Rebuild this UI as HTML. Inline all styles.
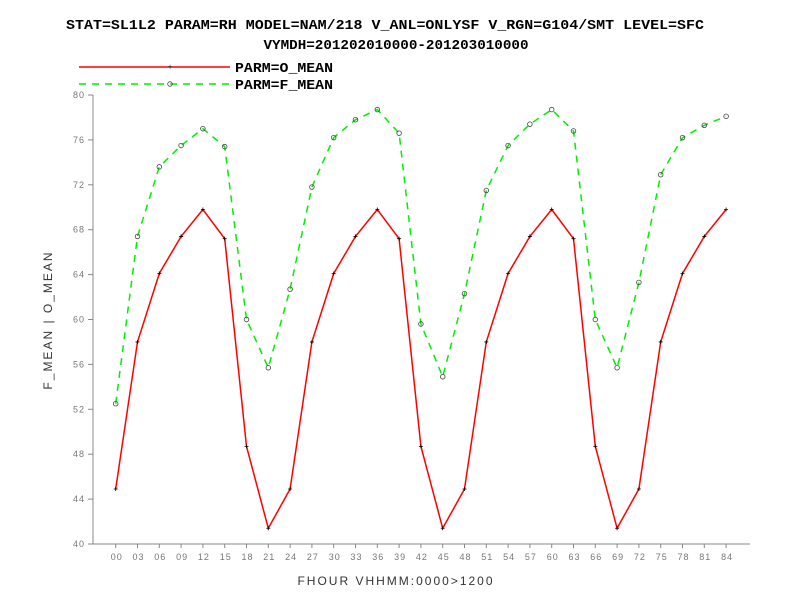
<!DOCTYPE html>
<html><head><meta charset="utf-8"><style>
body{margin:0;background:#fff}
svg{display:block}
.t{font-family:"Liberation Mono",monospace;font-weight:bold;font-size:14px;fill:#000}
.tk{font-family:"Liberation Sans",sans-serif;font-size:9px;fill:#777;letter-spacing:1px}
.lb{font-family:"Liberation Sans",sans-serif;font-size:12px;fill:#333;letter-spacing:2px}
</style></head><body>
<svg id="chart" width="792" height="612">
<text class="t" x="385" y="29" text-anchor="middle" textLength="638" lengthAdjust="spacingAndGlyphs">STAT=SL1L2 PARAM=RH MODEL=NAM/218 V_ANL=ONLYSF V_RGN=G104/SMT LEVEL=SFC</text>
<text class="t" x="396" y="49" text-anchor="middle" textLength="265" lengthAdjust="spacingAndGlyphs">VYMDH=201202010000-201203010000</text>
<g>
<line x1="79" y1="67" x2="230" y2="67" stroke="#f00" stroke-width="1.5"/>
<text x="170" y="70" font-size="9" text-anchor="middle">+</text>
<text class="t" x="235" y="72" textLength="98" lengthAdjust="spacingAndGlyphs">PARM=O_MEAN</text>
<line x1="79" y1="84" x2="230" y2="84" stroke="#0e0" stroke-width="1.5" stroke-dasharray="7,6"/>
<circle cx="170" cy="84" r="2.3" fill="none" stroke="#444" stroke-width="0.8"/>
<text class="t" x="235" y="89" textLength="98" lengthAdjust="spacingAndGlyphs">PARM=F_MEAN</text>
</g>
<text class="lb" transform="translate(52,320) rotate(-90)" text-anchor="middle">F_MEAN | O_MEAN</text>
<text class="lb" x="396" y="585" text-anchor="middle">FHOUR VHHMM:0000&gt;1200</text>
<g id="axes"></g>
<g id="marks"></g>
</svg>
<script>
const categories=["00","03","06","09","12","15","18","21","24","27","30","33","36","39","42","45","48","51","54","57","60","63","66","69","72","75","78","81","84"];
const oMean=[44.9,58.0,64.1,67.4,69.8,67.2,48.7,41.4,44.9,58.0,64.1,67.4,69.8,67.2,48.7,41.4,44.9,58.0,64.1,67.4,69.8,67.2,48.7,41.4,44.9,58.0,64.1,67.4,69.8];
const fMean=[52.5,67.4,73.6,75.5,77.0,75.4,60.0,55.7,62.7,71.8,76.2,77.8,78.7,76.6,59.6,54.9,62.3,71.5,75.5,77.4,78.7,76.8,60.0,55.7,63.3,72.9,76.2,77.3,78.1];
const yTicks=[40,44,48,52,56,60,64,68,72,76,80];
const NS="http://www.w3.org/2000/svg";
const x=i=>115.7+i*21.8;
const y=v=>544-(v-40)*(449/40);
const axes=document.getElementById('axes'),marks=document.getElementById('marks');
function mk(tag,attrs,parent){const e=document.createElementNS(NS,tag);for(const k in attrs)e.setAttribute(k,attrs[k]);parent.appendChild(e);return e;}
const ya=mk('line',{x1:93,y1:95,x2:93,y2:544,stroke:'#888'},axes);


const xa=mk('line',{x1:93,y1:544,x2:750,y2:544,stroke:'#888'},axes);


yTicks.forEach(v=>{
 mk('line',{x1:88,y1:y(v),x2:93,y2:y(v),stroke:'#888'},axes);
 const t=mk('text',{x:85,y:y(v)+3,'text-anchor':'end',class:'tk'},axes);t.textContent=v;
 
 
});
categories.forEach((c,i)=>{
 mk('line',{x1:x(i),y1:544,x2:x(i),y2:548,stroke:'#888'},axes);
 const t=mk('text',{x:x(i)+1,y:560,'text-anchor':'middle',class:'tk'},axes);t.textContent=c;
 
 
});
const fl=mk('polyline',{points:fMean.map((v,i)=>x(i)+','+y(v)).join(' '),fill:'none',stroke:'#0e0','stroke-width':1.5,'stroke-dasharray':'7,6'},marks);


const ol=mk('polyline',{points:oMean.map((v,i)=>x(i)+','+y(v)).join(' '),fill:'none',stroke:'#f00','stroke-width':1.5},marks);


fMean.forEach((v,i)=>{
 const c=mk('circle',{cx:x(i),cy:y(v),r:2.3,fill:'none',stroke:'#444','stroke-width':0.8},marks);
 
 
});
oMean.forEach((v,i)=>{
 const p=mk('path',{d:`M${x(i)-2},${y(v)}h4M${x(i)},${y(v)-2}v4`,stroke:'#000','stroke-width':0.8},marks);
 
 
});
</script>
</body></html>
